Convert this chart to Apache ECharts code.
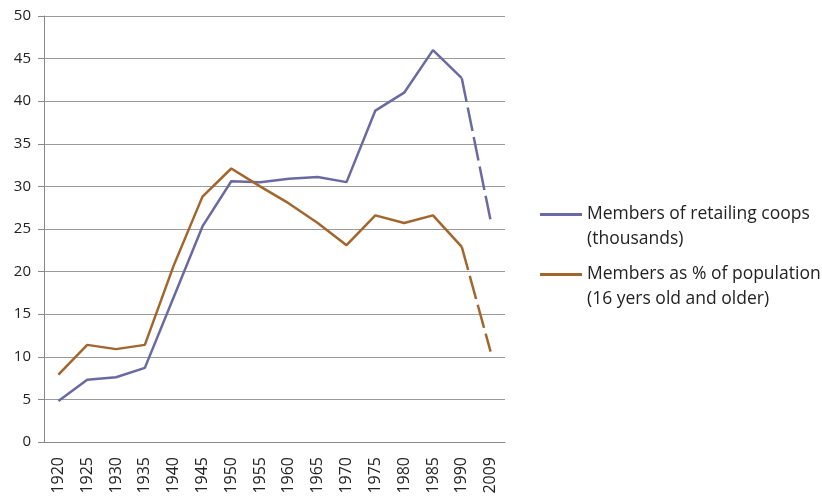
<!DOCTYPE html>
<html>
<head>
<meta charset="utf-8">
<script src="https://cdn.jsdelivr.net/npm/echarts@6/dist/echarts.min.js"></script>
<style>
  html, body { margin: 0; padding: 0; background: #fff; }
  #chart { width: 822px; height: 498px; }
</style>
</head>
<body>
<div id="chart"></div>
<script>
  var years = ['1920', '1925', '1930', '1935', '1940', '1945', '1950', '1955',
    '1960', '1965', '1970', '1975', '1980', '1985', '1990', '2009'];
  var coopMembers = [4.8, 7.3, 7.6, 8.7, 17.0, 25.3, 30.6, 30.5, 30.9, 31.1, 30.5, 38.9, 41.0, 46.0, 42.7, 26.0];
  var popShare = [7.9, 11.4, 10.9, 11.4, 20.7, 28.8, 32.1, 30.0, 28.0, 25.7, 23.1, 26.6, 25.7, 26.6, 22.9, 10.6];
  var names = ['Members of retailing coops\n(thousands)', 'Members as % of population\n(16 yers old and older)'];
  var colors = ['#6a6aa3', '#a2662c'];

  // solid part runs to 1990, the 1990 -> 2009 gap is drawn dashed
  function solidPart(arr) {
    return arr.map(function (v, i) { return i < arr.length - 1 ? v : '-'; });
  }
  function dashPart(arr) {
    return arr.map(function (v, i) { return i >= arr.length - 2 ? v : '-'; });
  }

  var series = [];
  [coopMembers, popShare].forEach(function (arr, i) {
    series.push({
      name: names[i], type: 'line', data: solidPart(arr), symbol: 'none',
      lineStyle: { color: colors[i], width: 2.5 }, itemStyle: { color: colors[i] }
    });
    series.push({
      name: 'dash' + i, type: 'line', data: dashPart(arr), symbol: 'none',
      lineStyle: { color: colors[i], width: 2.5, type: [24, 6] }, itemStyle: { color: colors[i] }
    });
  });

  var chart = echarts.init(document.getElementById('chart'));
  chart.setOption({
    animation: false,
    textStyle: { fontFamily: 'Open Sans', color: '#222' },
    grid: { left: 44, right: 317, top: 16, bottom: 56 },
    legend: {
      data: names, orient: 'vertical', left: 540, top: 177, itemGap: -15, padding: 0,
      itemWidth: 42, itemHeight: 3, icon: 'rect',
      //  empty first line keeps the swatch level with the first text line
      formatter: function (name) { return '\n' + name; },
      textStyle: { fontSize: 17.5, color: '#222', lineHeight: 25, fontFamily: 'Open Sans' }
    },
    xAxis: {
      type: 'category', data: years, boundaryGap: true,
      axisLine: { lineStyle: { color: '#888' } },
      axisTick: { length: 6, lineStyle: { color: '#888' } },
      axisLabel: { rotate: 90, fontSize: 16, color: '#222', margin: 15 }
    },
    yAxis: {
      type: 'value', min: 0, max: 50, interval: 5,
      axisLine: { show: true, lineStyle: { color: '#888' } },
      axisTick: { show: true, length: 6, lineStyle: { color: '#888' } },
      splitLine: { lineStyle: { color: '#9a9a9a' } },
      axisLabel: { fontSize: 15, color: '#222', margin: 13 }
    },
    series: series
  });
</script>
</body>
</html>
